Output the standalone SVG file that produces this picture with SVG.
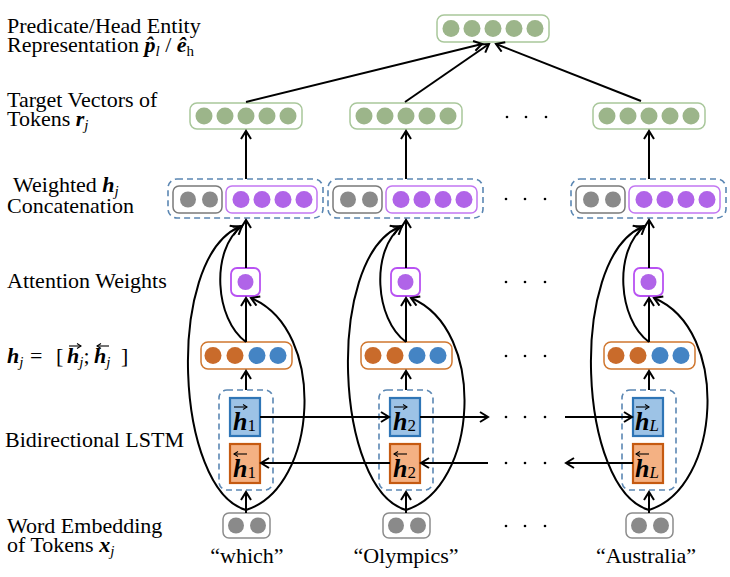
<svg xmlns="http://www.w3.org/2000/svg" width="730" height="577" viewBox="0 0 730 577">
<defs>
<marker id="ah" viewBox="-10 -6 12 12" refX="0" refY="0" markerWidth="12" markerHeight="12" markerUnits="userSpaceOnUse" orient="auto"><path d="M-8,-5 L0,0 L-8,5" fill="none" stroke="#000" stroke-width="2"/></marker>
<marker id="sa" viewBox="-6 -4 7 8" refX="0" refY="0" markerWidth="7" markerHeight="8" markerUnits="userSpaceOnUse" orient="auto"><path d="M-4,-2.5 L0,0 L-4,2.5" fill="none" stroke="#000" stroke-width="1.1"/></marker>
</defs>
<style>
text{font-family:"Liberation Serif","Times New Roman",serif;fill:#000}
.lbl{font-size:22px}
.bi{font-weight:bold;font-style:italic}
.si{font-style:italic;font-weight:normal;font-size:15px}
.su{font-size:15px;font-weight:normal;font-style:normal}
.g{fill:#9cb58a}
.gb{fill:#fff;stroke:#a9c79b;stroke-width:1.5}
.gr{fill:#8a8a8a}
.grb{fill:#fff;stroke:#7a7a7a;stroke-width:1.5}
.eb{fill:#fff;stroke:#8c8c8c;stroke-width:1.5}
.p{fill:#b064e8}
.pb{fill:#fff;stroke:#c277f2;stroke-width:1.5}
.ab{fill:#fff;stroke:#b852f2;stroke-width:1.8}
.o{fill:#c96b2b}
.b{fill:#4484c4}
.ob{fill:#fff;stroke:#d0772f;stroke-width:1.5}
.dash{fill:none;stroke:#5b87b3;stroke-width:1.6;stroke-dasharray:6 4}
.fw{fill:#9dc3e6;stroke:#2e75b6;stroke-width:2.2}
.bw{fill:#f4b183;stroke:#c55a11;stroke-width:2.2}
.vh{font-size:26px;font-weight:bold;font-style:italic}
.vs{font-size:17px;font-weight:normal;font-style:normal}
.vsi{font-size:17px;font-weight:normal;font-style:italic}
.ln{fill:none;stroke:#000;stroke-width:2}
.ar{fill:none;stroke:#000;stroke-width:2;marker-end:url(#ah)}
.sar{fill:none;stroke:#000;stroke-width:1.1;marker-end:url(#sa)}
.dot{fill:#000}
.tok{font-size:22px;text-anchor:middle}
</style>

<!-- row labels -->
<g id="labels">
<text class="lbl" x="7" y="33">Predicate/Head Entity</text>
<text class="lbl" x="7" y="52">Representation <tspan class="bi">p̂</tspan><tspan class="si" dy="4">l</tspan><tspan dy="-4"> / </tspan><tspan class="bi">ê</tspan><tspan class="su" dy="4">h</tspan></text>
<text class="lbl" x="7" y="107">Target Vectors of</text>
<text class="lbl" x="7" y="126">Tokens <tspan class="bi">r</tspan><tspan class="si" dy="4">j</tspan></text>
<text class="lbl" x="13" y="192">Weighted <tspan class="bi">h</tspan><tspan class="si" dy="4">j</tspan></text>
<text class="lbl" x="7" y="213">Concatenation</text>
<text class="lbl" x="7" y="288">Attention Weights</text>
<text class="lbl" x="7" y="363"><tspan class="bi">h</tspan><tspan class="si" dy="4">j</tspan><tspan x="30" dy="-4">=</tspan><tspan x="56">[</tspan><tspan x="67" class="bi">h</tspan><tspan class="si" dy="4">j</tspan><tspan dy="-4">;</tspan><tspan x="94" class="bi">h</tspan><tspan class="si" dy="4">j</tspan><tspan x="121" dy="-4">]</tspan></text>
<path class="sar" d="M69,346 L81,346"/>
<path class="sar" d="M109,346 L97,346"/>
<text class="lbl" x="5" y="447">Bidirectional LSTM</text>
<text class="lbl" x="7" y="533">Word Embedding</text>
<text class="lbl" x="7" y="552">of Tokens <tspan class="bi">x</tspan><tspan class="si" dy="4">j</tspan></text>
</g>

<!-- top node -->
<g id="head">
<rect class="gb" x="437" y="15" width="112" height="27" rx="7"/>
<circle class="g" cx="451" cy="28.5" r="8.5"/><circle class="g" cx="472" cy="28.5" r="8.5"/><circle class="g" cx="493" cy="28.5" r="8.5"/><circle class="g" cx="514" cy="28.5" r="8.5"/><circle class="g" cx="535" cy="28.5" r="8.5"/>
</g>

<!-- column 1 -->
<g id="target1">
<rect class="gb" x="190" y="103" width="112" height="26" rx="7"/>
<circle class="g" cx="204" cy="116" r="8.5"/><circle class="g" cx="225" cy="116" r="8.5"/><circle class="g" cx="246" cy="116" r="8.5"/><circle class="g" cx="267" cy="116" r="8.5"/><circle class="g" cx="288" cy="116" r="8.5"/>
</g>
<g id="concat1">
<rect class="dash" x="168" y="179" width="155" height="39" rx="9"/>
<rect class="grb" x="173" y="186" width="49" height="27" rx="6"/>
<circle class="gr" cx="188" cy="199.5" r="8"/><circle class="gr" cx="210" cy="199.5" r="8"/>
<rect class="pb" x="226" y="186" width="91" height="27" rx="6"/>
<circle class="p" cx="241" cy="199.5" r="8.5"/><circle class="p" cx="262" cy="199.5" r="8.5"/><circle class="p" cx="283" cy="199.5" r="8.5"/><circle class="p" cx="304" cy="199.5" r="8.5"/>
</g>
<g id="att1">
<rect class="ab" x="231" y="268" width="29" height="28" rx="6"/>
<circle class="p" cx="245.5" cy="282" r="8"/>
</g>
<g id="hj1">
<rect class="ob" x="201" y="342" width="91" height="27" rx="7"/>
<circle class="o" cx="213" cy="355.5" r="8.5"/><circle class="o" cx="235" cy="355.5" r="8.5"/><circle class="b" cx="257" cy="355.5" r="8.5"/><circle class="b" cx="278" cy="355.5" r="8.5"/>
</g>
<g id="lstm1">
<rect class="dash" x="219" y="390" width="54" height="100" rx="8"/>
<rect class="fw" x="230" y="398" width="30" height="38"/>
<text class="vh" x="233" y="430">h<tspan class="vs" dy="1">1</tspan></text>
<path class="sar" d="M234,407 L247,407"/>
<rect class="bw" x="230" y="444" width="30" height="39"/>
<text class="vh" x="233" y="477">h<tspan class="vs" dy="1">1</tspan></text>
<path class="sar" d="M247,454 L234,454"/>
</g>
<g id="emb1">
<rect class="eb" x="223" y="513" width="47" height="25" rx="6"/>
<circle class="gr" cx="236" cy="525.5" r="8"/><circle class="gr" cx="258" cy="525.5" r="8"/>
<text class="tok" x="247" y="563">“which”</text>
</g>

<!-- column 2 -->
<g id="target2">
<rect class="gb" x="350" y="103" width="112" height="26" rx="7"/>
<circle class="g" cx="364" cy="116" r="8.5"/><circle class="g" cx="385" cy="116" r="8.5"/><circle class="g" cx="406" cy="116" r="8.5"/><circle class="g" cx="427" cy="116" r="8.5"/><circle class="g" cx="448" cy="116" r="8.5"/>
</g>
<g id="concat2">
<rect class="dash" x="328" y="179" width="155" height="39" rx="9"/>
<rect class="grb" x="333" y="186" width="49" height="27" rx="6"/>
<circle class="gr" cx="348" cy="199.5" r="8"/><circle class="gr" cx="370" cy="199.5" r="8"/>
<rect class="pb" x="386" y="186" width="91" height="27" rx="6"/>
<circle class="p" cx="401" cy="199.5" r="8.5"/><circle class="p" cx="422" cy="199.5" r="8.5"/><circle class="p" cx="443" cy="199.5" r="8.5"/><circle class="p" cx="464" cy="199.5" r="8.5"/>
</g>
<g id="att2">
<rect class="ab" x="391" y="268" width="29" height="28" rx="6"/>
<circle class="p" cx="405.5" cy="282" r="8"/>
</g>
<g id="hj2">
<rect class="ob" x="361" y="342" width="91" height="27" rx="7"/>
<circle class="o" cx="373" cy="355.5" r="8.5"/><circle class="o" cx="395" cy="355.5" r="8.5"/><circle class="b" cx="417" cy="355.5" r="8.5"/><circle class="b" cx="438" cy="355.5" r="8.5"/>
</g>
<g id="lstm2">
<rect class="dash" x="379" y="390" width="54" height="100" rx="8"/>
<rect class="fw" x="390" y="398" width="30" height="38"/>
<text class="vh" x="393" y="430">h<tspan class="vs" dy="1">2</tspan></text>
<path class="sar" d="M394,407 L407,407"/>
<rect class="bw" x="390" y="444" width="30" height="39"/>
<text class="vh" x="393" y="477">h<tspan class="vs" dy="1">2</tspan></text>
<path class="sar" d="M407,454 L394,454"/>
</g>
<g id="emb2">
<rect class="eb" x="383" y="513" width="47" height="25" rx="6"/>
<circle class="gr" cx="396" cy="525.5" r="8"/><circle class="gr" cx="418" cy="525.5" r="8"/>
<text class="tok" x="406" y="563">“Olympics”</text>
</g>

<!-- column 3 -->
<g id="target3">
<rect class="gb" x="593" y="103" width="112" height="26" rx="7"/>
<circle class="g" cx="607" cy="116" r="8.5"/><circle class="g" cx="628" cy="116" r="8.5"/><circle class="g" cx="649" cy="116" r="8.5"/><circle class="g" cx="670" cy="116" r="8.5"/><circle class="g" cx="691" cy="116" r="8.5"/>
</g>
<g id="concat3">
<rect class="dash" x="571" y="179" width="155" height="39" rx="9"/>
<rect class="grb" x="576" y="186" width="49" height="27" rx="6"/>
<circle class="gr" cx="591" cy="199.5" r="8"/><circle class="gr" cx="613" cy="199.5" r="8"/>
<rect class="pb" x="629" y="186" width="91" height="27" rx="6"/>
<circle class="p" cx="644" cy="199.5" r="8.5"/><circle class="p" cx="665" cy="199.5" r="8.5"/><circle class="p" cx="686" cy="199.5" r="8.5"/><circle class="p" cx="707" cy="199.5" r="8.5"/>
</g>
<g id="att3">
<rect class="ab" x="634" y="268" width="29" height="28" rx="6"/>
<circle class="p" cx="648.5" cy="282" r="8"/>
</g>
<g id="hj3">
<rect class="ob" x="604" y="342" width="91" height="27" rx="7"/>
<circle class="o" cx="616" cy="355.5" r="8.5"/><circle class="o" cx="638" cy="355.5" r="8.5"/><circle class="b" cx="660" cy="355.5" r="8.5"/><circle class="b" cx="681" cy="355.5" r="8.5"/>
</g>
<g id="lstm3">
<rect class="dash" x="622" y="390" width="54" height="100" rx="8"/>
<rect class="fw" x="633" y="398" width="30" height="38"/>
<text class="vh" x="635" y="430">h<tspan class="vsi" dy="1">L</tspan></text>
<path class="sar" d="M636,407 L649,407"/>
<rect class="bw" x="633" y="444" width="30" height="39"/>
<text class="vh" x="635" y="477">h<tspan class="vsi" dy="1">L</tspan></text>
<path class="sar" d="M649,454 L636,454"/>
</g>
<g id="emb3">
<rect class="eb" x="626" y="513" width="47" height="25" rx="6"/>
<circle class="gr" cx="639" cy="525.5" r="8"/><circle class="gr" cx="661" cy="525.5" r="8"/>
<text class="tok" x="646" y="563">“Australia”</text>
</g>

<!-- ellipsis dots -->
<g id="ellipsis">
<circle class="dot" cx="507" cy="117" r="1.3"/><circle class="dot" cx="526" cy="117" r="1.3"/><circle class="dot" cx="546" cy="117" r="1.3"/>
<circle class="dot" cx="506" cy="199" r="1.3"/><circle class="dot" cx="525" cy="199" r="1.3"/><circle class="dot" cx="545" cy="199" r="1.3"/>
<circle class="dot" cx="506" cy="282" r="1.3"/><circle class="dot" cx="525" cy="282" r="1.3"/><circle class="dot" cx="545" cy="282" r="1.3"/>
<circle class="dot" cx="506" cy="356" r="1.3"/><circle class="dot" cx="525" cy="356" r="1.3"/><circle class="dot" cx="545" cy="356" r="1.3"/>
<circle class="dot" cx="506" cy="417" r="1.3"/><circle class="dot" cx="525" cy="417" r="1.3"/><circle class="dot" cx="545" cy="417" r="1.3"/>
<circle class="dot" cx="506" cy="463" r="1.3"/><circle class="dot" cx="525" cy="463" r="1.3"/><circle class="dot" cx="545" cy="463" r="1.3"/>
<circle class="dot" cx="506" cy="526" r="1.3"/><circle class="dot" cx="525" cy="526" r="1.3"/><circle class="dot" cx="545" cy="526" r="1.3"/>
</g>

<!-- connectors -->
<g id="connectors">
<path class="ar" d="M246,102 L482,44"/>
<path class="ar" d="M405,102 L489,44"/>
<path class="ar" d="M641,101 L496,44"/>
<!-- col1 -->
<path class="ar" d="M246,513 L246,492"/>
<path class="ar" d="M246,390 L246,371"/>
<path class="ar" d="M246,342 L246,298"/>
<path class="ar" d="M246,268 L246,220"/>
<path class="ar" d="M246,179 L246,131"/>
<path class="ar" d="M246,510 C175,490 165,260 239,227"/>
<path class="ar" d="M246,510 C318,488 328,330 251,298"/>
<path class="ar" d="M246,342 C215,320 210,250 242,226"/>
<!-- col2 -->
<path class="ar" d="M406,513 L406,492"/>
<path class="ar" d="M406,390 L406,371"/>
<path class="ar" d="M406,342 L406,298"/>
<path class="ar" d="M406,268 L406,220"/>
<path class="ar" d="M406,179 L406,131"/>
<path class="ar" d="M406,510 C335,490 325,260 399,227"/>
<path class="ar" d="M406,510 C478,488 488,330 411,298"/>
<path class="ar" d="M406,342 C375,320 370,250 402,226"/>
<!-- col3 -->
<path class="ar" d="M649,513 L649,492"/>
<path class="ar" d="M649,390 L649,371"/>
<path class="ar" d="M649,342 L649,298"/>
<path class="ar" d="M649,268 L649,220"/>
<path class="ar" d="M649,179 L649,131"/>
<path class="ar" d="M649,510 C578,490 568,260 642,227"/>
<path class="ar" d="M649,510 C721,488 731,330 654,298"/>
<path class="ar" d="M649,342 C618,320 613,250 645,226"/>
<!-- LSTM recurrences -->
<path class="ar" d="M260,417 L389,417"/>
<path class="ar" d="M420,417 L488,417"/>
<path class="ar" d="M565,417 L632,417"/>
<path class="ar" d="M488,463 L421,463"/>
<path class="ar" d="M390,463 L261,463"/>
<path class="ar" d="M633,463 L566,463"/>
</g>
</svg>
